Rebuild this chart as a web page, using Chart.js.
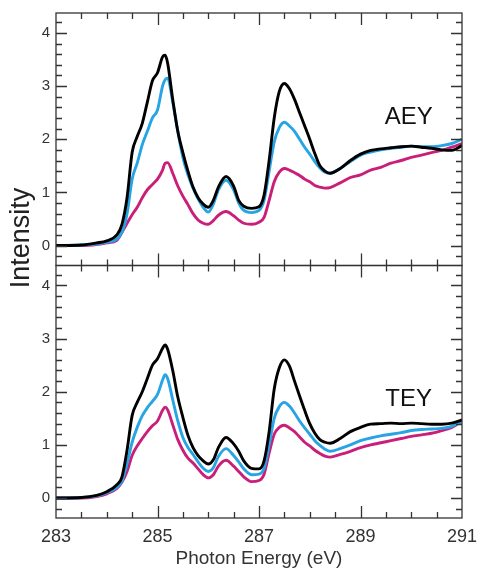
<!DOCTYPE html>
<html>
<head>
<meta charset="utf-8">
<script src="https://cdn.jsdelivr.net/npm/chart.js@4/dist/chart.umd.min.js"></script>
<style>
  html, body { margin: 0; padding: 0; background: #fff; }
  #wrap { position: relative; width: 479px; height: 571px; }
</style>
</head>
<body>
<div id="wrap"><canvas id="nexafs" width="479" height="571"></canvas></div>
<script>
// photon energy grid (eV)
const energy = [283.0, 283.5, 283.8, 284.0, 284.2, 284.3, 284.4, 284.5, 284.6, 284.7, 284.8, 284.9,
  285.0, 285.1, 285.15, 285.2, 285.3, 285.4, 285.5, 285.6, 285.7, 285.8, 285.9, 286.0, 286.1, 286.2,
  286.35, 286.5, 286.6, 286.7, 286.85, 287.0, 287.1, 287.2, 287.3, 287.4, 287.5, 287.6, 287.7, 287.8,
  287.9, 288.0, 288.1, 288.2, 288.3, 288.4, 288.6, 288.8, 289.0, 289.2, 289.4, 289.6, 289.8, 290.0,
  290.2, 290.4, 290.6, 290.8, 291.0];

// AEY panel
const aeyBlack = [0.0, 0.01, 0.05, 0.09, 0.2, 0.4, 0.9, 1.75, 2.05, 2.3, 2.7, 3.1,
  3.25, 3.55, 3.58, 3.43, 2.75, 2.15, 1.75, 1.4, 1.1, 0.9, 0.78, 0.72, 0.85, 1.1,
  1.3, 1.12, 0.85, 0.74, 0.7, 0.73, 0.95, 1.6, 2.4, 2.9, 3.05, 2.95, 2.75, 2.5,
  2.25, 2.0, 1.73, 1.5, 1.4, 1.36, 1.45, 1.6, 1.72, 1.79, 1.82, 1.84, 1.86, 1.87,
  1.85, 1.83, 1.8, 1.79, 1.88];
const aeyBlue = [0.0, 0.01, 0.03, 0.06, 0.12, 0.25, 0.6, 1.25, 1.55, 1.9, 2.15, 2.4,
  2.55, 3.0, 3.12, 3.15, 2.7, 2.15, 1.66, 1.33, 1.08, 0.88, 0.72, 0.63, 0.78, 1.05,
  1.23, 1.05, 0.8, 0.66, 0.62, 0.66, 0.85, 1.4, 1.95, 2.22, 2.32, 2.25, 2.15, 2.0,
  1.85, 1.72, 1.58, 1.46, 1.38, 1.36, 1.45, 1.58, 1.7, 1.76, 1.8, 1.83, 1.85, 1.87,
  1.86, 1.86, 1.88, 1.92, 2.0];
const aeyPink = [0.0, 0.0, 0.02, 0.05, 0.1, 0.25, 0.42, 0.58, 0.72, 0.9, 1.05, 1.15,
  1.25, 1.42, 1.55, 1.56, 1.36, 1.12, 0.93, 0.77, 0.6, 0.48, 0.42, 0.4, 0.47, 0.57,
  0.64, 0.56, 0.48, 0.42, 0.4, 0.44, 0.53, 0.85, 1.2, 1.38, 1.45, 1.42, 1.37, 1.32,
  1.25, 1.2, 1.13, 1.1, 1.08, 1.09, 1.18, 1.28, 1.33, 1.42, 1.47, 1.55, 1.6, 1.66,
  1.7, 1.75, 1.79, 1.85, 1.92];

// TEY panel
const teyBlack = [0.0, 0.01, 0.05, 0.12, 0.25, 0.4, 0.9, 1.55, 1.8, 2.0, 2.25, 2.5,
  2.62, 2.82, 2.88, 2.8, 2.4, 1.9, 1.52, 1.18, 0.95, 0.8, 0.7, 0.64, 0.72, 0.95,
  1.14, 1.02, 0.88, 0.7, 0.56, 0.55, 0.7, 1.25, 2.05, 2.45, 2.6, 2.48, 2.2, 1.92,
  1.65, 1.4, 1.22, 1.1, 1.05, 1.03, 1.12, 1.25, 1.33, 1.39, 1.4, 1.41, 1.4, 1.41,
  1.4, 1.39, 1.39, 1.41, 1.47];
const teyBlue = [0.0, 0.01, 0.04, 0.1, 0.2, 0.32, 0.65, 1.05, 1.33, 1.55, 1.7, 1.82,
  1.95, 2.22, 2.32, 2.25, 1.85, 1.45, 1.14, 0.95, 0.82, 0.68, 0.56, 0.5, 0.57, 0.78,
  0.93, 0.8, 0.68, 0.55, 0.44, 0.45, 0.56, 1.0, 1.5, 1.72, 1.8, 1.73, 1.6, 1.45,
  1.32, 1.2, 1.08, 0.99, 0.92, 0.88, 0.93, 1.0, 1.08, 1.13, 1.17, 1.2, 1.23, 1.27,
  1.29, 1.3, 1.31, 1.35, 1.45];
const teyPink = [0.0, 0.0, 0.03, 0.08, 0.18, 0.3, 0.5, 0.8, 0.98, 1.12, 1.25, 1.36,
  1.45, 1.65, 1.71, 1.66, 1.38, 1.1, 0.9, 0.75, 0.66, 0.55, 0.44, 0.38, 0.44, 0.6,
  0.71, 0.6, 0.5, 0.4, 0.31, 0.33, 0.45, 0.85, 1.2, 1.33, 1.37, 1.32, 1.25, 1.15,
  1.05, 0.98, 0.9, 0.84, 0.79, 0.77, 0.82, 0.88, 0.95, 1.0, 1.04, 1.08, 1.12, 1.16,
  1.19, 1.22, 1.27, 1.33, 1.45];

const xTicks = [283, 285, 287, 289, 291];
const yTicks = [0, 1, 2, 3, 4];

const BLACK = '#000000', BLUE = '#27a4e4', PINK = '#c91f78';

Chart.defaults.font.family = '"Liberation Sans", Arial, sans-serif';
Chart.defaults.color = '#333';

const pts = ys => energy.map((x, i) => ({ x: x, y: ys[i] }));
const line = (data, color, axis) => ({
  data: pts(data), yAxisID: axis, borderColor: color, borderWidth: 2.9,
  pointRadius: 0, fill: false, cubicInterpolationMode: 'monotone'
});

// frame, inward ticks and panel labels
const framePlugin = {
  id: 'frame',
  afterDatasetsDraw(chart) {
    const ctx = chart.ctx, ca = chart.chartArea, xs = chart.scales.x;
    ctx.save();
    ctx.strokeStyle = '#333';
    ctx.lineWidth = 1.3;
    ['yTop', 'yBot'].forEach(id => {
      const ys = chart.scales[id];
      ctx.strokeRect(ca.left, ys.top, ca.right - ca.left, ys.bottom - ys.top);
      ctx.beginPath();
      for (let k = -1; k <= 21; k++) {
        const v = k / 5;
        if (v < ys.min || v > ys.max) continue;
        const py = Math.round(ys.getPixelForValue(v)) + 0.5;
        const len = k % 5 === 0 ? 11 : 6;
        ctx.moveTo(ca.left, py); ctx.lineTo(ca.left + len, py);
        ctx.moveTo(ca.right, py); ctx.lineTo(ca.right - len, py);
      }
      for (let k = 1; k < 16; k++) {
        const px = Math.round(xs.getPixelForValue(283 + k / 2)) + 0.5;
        const len = k % 4 === 0 ? 12 : 6;
        ctx.moveTo(px, ys.top); ctx.lineTo(px, ys.top + len);
        ctx.moveTo(px, ys.bottom); ctx.lineTo(px, ys.bottom - len);
      }
      ctx.stroke();
    });

    ctx.fillStyle = '#111';
    ctx.textAlign = 'center';
    ctx.textBaseline = 'middle';
    ctx.font = '24px "Liberation Sans Narrow", "Liberation Sans", Arial, sans-serif';
    ctx.fillText('AEY', xs.getPixelForValue(289.95), chart.scales.yTop.getPixelForValue(2.42));
    ctx.fillText('TEY', xs.getPixelForValue(289.95), chart.scales.yBot.getPixelForValue(1.86));

    ctx.fillStyle = '#222';
    ctx.font = '27px "Liberation Sans", Arial, sans-serif';
    ctx.translate(22, 238);
    ctx.rotate(-Math.PI / 2);
    ctx.fillText('Intensity', 0, 0);
    ctx.restore();
  }
};

const yScale = () => ({
  type: 'linear', position: 'left', stack: 'panels', stackWeight: 1,
  min: -0.375, max: 4.375,
  grid: { display: false, drawTicks: false }, border: { display: false },
  afterBuildTicks: s => { s.ticks = yTicks.map(v => ({ value: v })); },
  afterFit: s => { s.width = 56; s.paddingTop = 0; s.paddingBottom = 0; },
  ticks: { padding: 6, color: '#333', font: { size: 15 } }
});

new Chart(document.getElementById('nexafs'), {
  type: 'line',
  data: {
    datasets: [
      line(aeyBlack, BLACK, 'yTop'),
      line(aeyBlue, BLUE, 'yTop'),
      line(aeyPink, PINK, 'yTop'),
      line(teyBlack, BLACK, 'yBot'),
      line(teyBlue, BLUE, 'yBot'),
      line(teyPink, PINK, 'yBot')
    ]
  },
  options: {
    responsive: false,
    animation: false,
    layout: { padding: { top: 13, right: 17, left: 0, bottom: 0 } },
    plugins: { legend: { display: false }, tooltip: { enabled: false } },
    scales: {
      x: {
        type: 'linear', min: 283, max: 291,
        grid: { display: false, drawTicks: false }, border: { display: false },
        afterBuildTicks: s => { s.ticks = xTicks.map(v => ({ value: v })); },
        afterFit: s => { s.height = 53; s.paddingLeft = 0; s.paddingRight = 0; },
        ticks: { padding: 8, color: '#333', font: { size: 18 } },
        title: { display: true, text: 'Photon Energy (eV)', color: '#333',
          font: { size: 19 }, padding: { top: 0, bottom: 1 } }
      },
      yBot: yScale(),
      yTop: yScale()
    }
  },
  plugins: [framePlugin]
});
</script>
</body>
</html>
